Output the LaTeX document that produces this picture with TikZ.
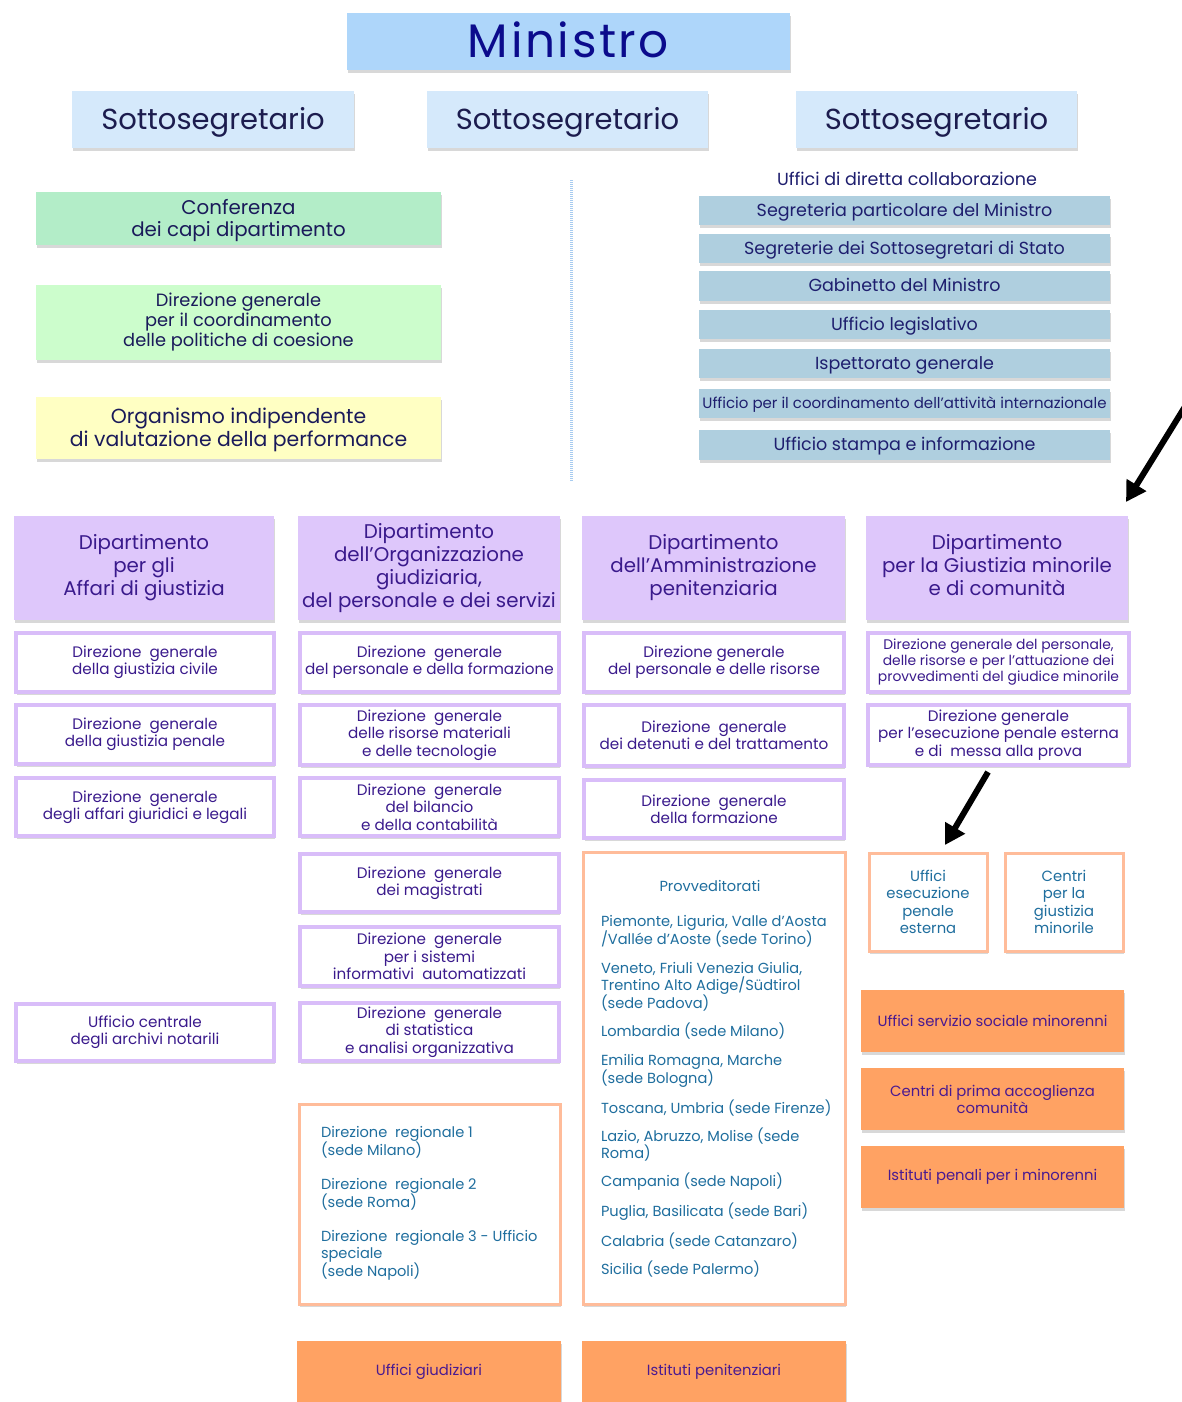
\documentclass[tikz,border=0pt]{standalone}
\usepackage{fontspec}
\setmainfont{Poppins}
\usetikzlibrary{arrows.meta,shadows}
\definecolor{cMin}{HTML}{AED6FA}
\definecolor{cMinT}{HTML}{0B0B8C}
\definecolor{cSot}{HTML}{D5E9FB}
\definecolor{cSotT}{HTML}{1C1C4E}
\definecolor{cConf}{HTML}{B3EDC8}
\definecolor{cCoes}{HTML}{CCFDCC}
\definecolor{cOiv}{HTML}{FFFFC3}
\definecolor{cNavy}{HTML}{1A1A5A}
\definecolor{cUff}{HTML}{AFCFDF}
\definecolor{cUffT}{HTML}{1E1E6E}
\definecolor{cDept}{HTML}{DEC7FB}
\definecolor{cDeptT}{HTML}{3A1A8C}
\definecolor{cSub}{HTML}{D9BDF9}
\definecolor{cOB}{HTML}{FFBC9A}
\definecolor{cBlue}{HTML}{1F6E9E}
\definecolor{cOF}{HTML}{FFA263}
\definecolor{cOFT}{HTML}{4A1A90}
\definecolor{cDash}{HTML}{A8CCF0}
\newcommand\myfs[2]{\fontsize{#1}{#2}\selectfont}
\newcommand\dgen{Direzione\ \ generale}
\newcommand\bx[7]{\node[#6, shad, minimum width={(#4-#2)*1pt}, minimum height={(#5-#3)*1pt}] (#1) at ({(#2+#4)/2},{(#3+#5)/2}) {#7};}
% box with its text shifted down by #7
\newcommand\bxs[8]{\node[#6, shad, minimum width={(#4-#2)*1pt}, minimum height={(#5-#3)*1pt}] (#1) at ({(#2+#4)/2},{(#3+#5)/2}) {};
  \node[#6, fill=none, draw=none] (#1-t) at ({(#2+#4)/2},{(#3+#5)/2+#7}) {#8};}
\tikzset{
 shad/.style={drop shadow={shadow xshift=1pt, shadow yshift=-3pt, opacity=0.3, fill=black!50}},
 base/.style={inner sep=0pt, outer sep=0pt, align=center},
 ministro/.style={base, fill=cMin, text=cMinT, font=\myfs{47}{50}\addfontfeature{LetterSpace=5.5}},
 sotto/.style={base, fill=cSot, text=cSotT, font=\myfs{29}{32}},
 grn/.style={base, text=cNavy},
 uff/.style={base, fill=cUff, text=cUffT, font=\myfs{17.5}{19}, text height=13pt, text depth=2pt},
 dept/.style={base, fill=cDept, text=cDeptT, font=\myfs{19.8}{23}},
 sub/.style={base, fill=white, draw=cSub, line width=4pt, text=cDeptT, font=\myfs{15.2}{17.3}},
 obox/.style={base, fill=white, draw=cOB, line width=3pt},
 ofill/.style={base, fill=cOF, text=cOFT, font=\myfs{14.8}{17}},
 btext/.style={inner sep=0pt, outer sep=0pt, text=cBlue, font=\myfs{14.6}{17}, align=left},
 arr/.style={line width=6pt, -{Triangle[length=20pt,width=22pt]}},
}
\begin{document}
\begin{tikzpicture}[x=1pt,y=-1pt]
\useasboundingbox (0,0) rectangle (1182,1402);
\fill[white] (0,0) rectangle (1182,1402);
% top
\bxs{min}{347}{13}{790}{70}{ministro}{-2}{Ministro}
\bxs{s1}{72}{91}{354}{148}{sotto}{2.5}{Sottosegretario}
\bxs{s2}{427}{91}{708}{148}{sotto}{2.5}{Sottosegretario}
\bxs{s3}{796}{91}{1077}{148}{sotto}{2.5}{Sottosegretario}
% left column
\bxs{conf}{36}{192}{441}{245}{grn, fill=cConf, font=\myfs{19.8}{22.5}}{2}{Conferenza\\dei capi dipartimento}
\bx{coes}{36}{285}{441}{360}{grn, fill=cCoes, font=\myfs{17.8}{20}}{Direzione generale\\per il coordinamento\\delle politiche di coesione}
\bxs{oiv}{36}{397}{441}{459}{grn, fill=cOiv, font=\myfs{20.4}{23}}{2}{Organismo indipendente\\di valutazione della performance}
% dashed separator
\draw[cDash, line width=3pt, dash pattern=on 1pt off 1pt] (571,180) -- (571,482);
% uffici di diretta collaborazione
\node[inner sep=0pt, text=cUffT, font=\myfs{17.5}{19}] (udc) at (907,179) {Uffici di diretta collaborazione};
\bx{u1}{699}{196}{1110}{225}{uff}{Segreteria particolare del Ministro}
\bx{u2}{699}{234}{1110}{263}{uff}{Segreterie dei Sottosegretari di Stato}
\bx{u3}{699}{271}{1110}{301}{uff}{Gabinetto del Ministro}
\bx{u4}{699}{310}{1110}{339}{uff}{Ufficio legislativo}
\bx{u5}{699}{349}{1110}{378}{uff}{Ispettorato generale}
\bx{u6}{699}{389}{1110}{418}{uff, font=\myfs{15}{16}, text height=11pt}{Ufficio per il coordinamento dell’attività internazionale}
\bx{u7}{699}{430}{1110}{460}{uff}{Ufficio stampa e informazione}
% departments
\bx{d1}{14}{516}{274}{620}{dept}{Dipartimento\\per gli\\Affari di giustizia}
\bx{d2}{298}{516}{560}{620}{dept}{Dipartimento\\dell’Organizzazione\\giudiziaria,\\del personale e dei servizi}
\bx{d3}{582}{516}{845}{620}{dept}{Dipartimento\\dell’Amministrazione\\penitenziaria}
\bx{d4}{866}{516}{1128}{620}{dept}{Dipartimento\\per la Giustizia minorile\\e di comunità\vphantom{g}}
% col 1
\bx{a1}{16}{633}{274}{692}{sub}{\dgen\\della giustizia civile}
\bx{a2}{16}{705}{274}{764}{sub}{\dgen\\della giustizia penale}
\bx{a3}{16}{778}{274}{836}{sub}{\dgen\\degli affari giuridici e legali}
\bx{a4}{16}{1004}{274}{1061}{sub}{Ufficio centrale\\degli archivi notarili}
% col 2
\bx{b1}{300}{633}{559}{692}{sub}{\dgen\\del personale e della formazione}
\bx{b2}{300}{705}{559}{765}{sub}{\dgen\\delle risorse materiali\\e delle tecnologie}
\bx{b3}{300}{778}{559}{836}{sub}{\dgen\\del bilancio\\e della contabilità}
\bx{b4}{300}{854}{559}{912}{sub}{\dgen\\dei magistrati}
\bx{b5}{300}{927}{559}{986}{sub}{\dgen\\per i sistemi\\informativi\ \ automatizzati}
\bx{b6}{300}{1003}{559}{1061}{sub}{\dgen\\di statistica\\e analisi organizzativa}
% col 3
\bx{c1}{584}{633}{844}{692}{sub}{Direzione generale\\del personale e delle risorse}
\bx{c2}{584}{705}{844}{766}{sub}{\dgen\\dei detenuti e del trattamento}
\bx{c3}{584}{780}{844}{838}{sub}{\dgen\\della formazione}
% col 4
\bx{e1}{868}{633}{1129}{692}{sub, font=\myfs{13.9}{16}}{Direzione generale del personale,\\delle risorse e per l’attuazione dei\\provvedimenti del giudice minorile}
\bx{e2}{868}{705}{1129}{765}{sub}{Direzione generale\\per l’esecuzione penale esterna\\e di\ \ messa alla prova}
% orange bordered
\bx{prov}{583}{852}{845}{1304}{obox}{}
\node[btext, align=center] (provT) at (710,886) {Provveditorati};
\node[btext, anchor=north west] (provL) at (601,915) {Piemonte, Liguria, Valle d’Aosta\\/Vallée d’Aoste (sede Torino)\\[11.2pt]
Veneto, Friuli Venezia Giulia,\\Trentino Alto Adige/Südtirol\\(sede Padova)\\[11.2pt]
Lombardia (sede Milano)\\[11.2pt]
Emilia Romagna, Marche\\(sede Bologna)\\[11.2pt]
Toscana, Umbria (sede Firenze)\\[11.2pt]
Lazio, Abruzzo, Molise (sede\\Roma)\\[11.2pt]
Campania (sede Napoli)\\[11.2pt]
Puglia, Basilicata (sede Bari)\\[11.2pt]
Calabria (sede Catanzaro)\\[11.2pt]
Sicilia (sede Palermo)};
\bx{reg}{299}{1104}{560}{1304}{obox}{}
\node[btext, anchor=north west] (regL) at (321,1126) {Direzione\ \ regionale 1\\(sede Milano)\\[16.5pt]
Direzione\ \ regionale 2\\(sede Roma)\\[16.5pt]
Direzione\ \ regionale 3 - Ufficio\\speciale\\(sede Napoli)};
\bx{ues}{869}{853}{987}{951}{obox, text=cBlue, font=\myfs{14.8}{17.3}}{Uffici\\esecuzione\\penale\\esterna}
\bx{cgm}{1005}{853}{1123}{951}{obox, text=cBlue, font=\myfs{14.8}{17.3}}{Centri\\per la\\giustizia\\minorile}
% orange filled
\bx{f1}{861}{990}{1124}{1052}{ofill}{Uffici servizio sociale minorenni}
\bx{f2}{861}{1068}{1124}{1130}{ofill}{Centri di prima accoglienza\\comunità}
\bx{f3}{861}{1146}{1124}{1208}{ofill}{Istituti penali per i minorenni}
\bxs{g1}{297}{1341}{561}{1410}{ofill}{-4}{Uffici giudiziari}
\bxs{g2}{582}{1341}{846}{1410}{ofill}{-4}{Istituti penitenziari}
% arrows
\coordinate (ar1) at (1186,405);
\coordinate (ar2) at (988,772);
\draw[arr] (ar1) -- ([xshift=-2pt, yshift=14pt]d4.north east);
\draw[arr] (ar2) -- ([xshift=17pt, yshift=8pt]ues.north);
\end{tikzpicture}
\end{document}
